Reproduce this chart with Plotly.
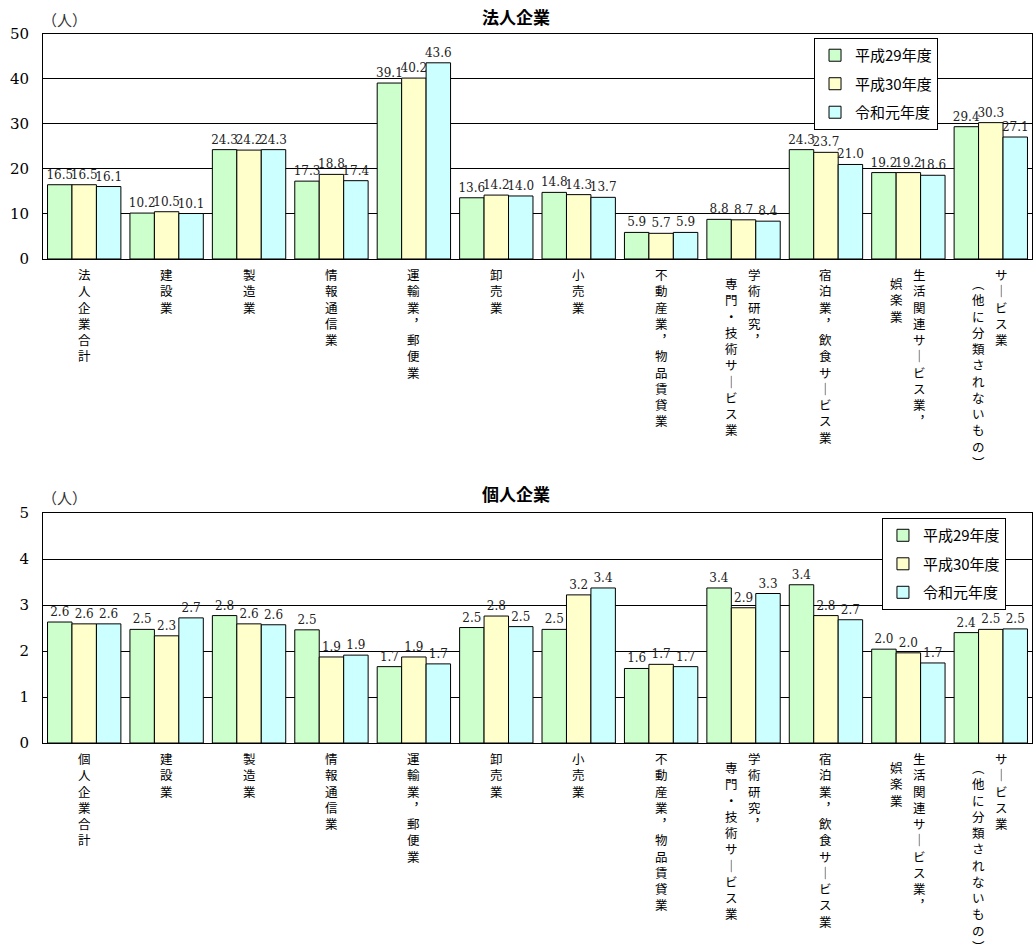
import plotly.graph_objects as go

# ---------------- data ----------------
series_names = ["平成29年度", "平成30年度", "令和元年度"]
series_colors = ["#CCFFCC", "#FFFFCC", "#CCFFFF"]

categories_corp = ["法人企業合計", "建設業", "製造業", "情報通信業", "運輸業，郵便業", "卸売業", "小売業",
                   "不動産業，物品賃貸業", "学術研究，専門・技術サービス業", "宿泊業，飲食サービス業",
                   "生活関連サービス業，娯楽業", "サービス業（他に分類されないもの）"]
categories_indiv = ["個人企業合計"] + categories_corp[1:]

# label columns as written vertically (first column = rightmost)
label_cols_corp = [["法人企業合計"], ["建設業"], ["製造業"], ["情報通信業"], ["運輸業，郵便業"], ["卸売業"],
                   ["小売業"], ["不動産業，物品賃貸業"], ["学術研究，", "専門・技術サービス業"],
                   ["宿泊業，飲食サービス業"], ["生活関連サービス業，", "娯楽業"],
                   ["サービス業", "（他に分類されないもの）"]]
label_cols_indiv = [["個人企業合計"]] + label_cols_corp[1:]

corp_h29 = [16.5, 10.2, 24.3, 17.3, 39.1, 13.6, 14.8, 5.9, 8.8, 24.3, 19.2, 29.4]
corp_h30 = [16.5, 10.5, 24.2, 18.8, 40.2, 14.2, 14.3, 5.7, 8.7, 23.7, 19.2, 30.3]
corp_r01 = [16.1, 10.1, 24.3, 17.4, 43.6, 14.0, 13.7, 5.9, 8.4, 21.0, 18.6, 27.1]

indiv_h29 = [2.63, 2.47, 2.77, 2.46, 1.66, 2.51, 2.47, 1.62, 3.37, 3.44, 2.04, 2.40]
indiv_h30 = [2.59, 2.33, 2.59, 1.87, 1.87, 2.76, 3.22, 1.71, 2.94, 2.77, 1.96, 2.47]
indiv_r01 = [2.59, 2.72, 2.57, 1.91, 1.72, 2.53, 3.37, 1.66, 3.25, 2.68, 1.74, 2.48]

corp_values = [corp_h29, corp_h30, corp_r01]
indiv_values = [indiv_h29, indiv_h30, indiv_r01]

titles = ["法人企業", "個人企業"]
unit_label = "（人）"

# ---------------- helpers ----------------
VMAP = {"ー": "｜", "，": "︐", "（": "︵", "）": "︶"}


def vertical(s):
    return "<br>".join(VMAP.get(c, c) for c in s)


CJK = "Noto Sans CJK JP"
NUM = "DejaVu Serif"

fig = go.Figure()

for panel, (cats, vals, xa, ya, lg) in enumerate([
        (categories_corp, corp_values, "x", "y", "legend"),
        (categories_indiv, indiv_values, "x2", "y2", "legend2")]):
    for i in range(3):
        fig.add_trace(go.Bar(
            x=cats, y=vals[i], name=series_names[i],
            marker=dict(color=series_colors[i], line=dict(color="#000000", width=1)),
            texttemplate="%{y:.1f}", textposition="outside", constraintext="none",
            textfont=dict(family=NUM, size=12, color="#222222"),
            cliponaxis=False, xaxis=xa, yaxis=ya, legend=lg,
            legendgroup=f"p{panel}s{i}", hoverinfo="x+y+name"))

# vertical category labels
annotations = []
for cats, cols, xr, yr in [(categories_corp, label_cols_corp, "x", "y domain"),
                           (categories_indiv, label_cols_indiv, "x2", "y2 domain")]:
    for cat, colset in zip(cats, cols):
        if len(colset) == 1:
            offsets = [(0, 0)]
        else:
            offsets = [(11, 0), (-12, -9)]
        for text, (dx, dy) in zip(colset, offsets):
            annotations.append(dict(
                x=cat, xref=xr, y=0, yref=yr, xanchor="center", yanchor="top",
                xshift=dx, yshift=-4 + dy, showarrow=False, align="center",
                text=vertical(text), font=dict(family=CJK, size=12.5, color="#000000")))

# titles and unit labels
for t, xr, yr, shift, ushift in [(titles[0], "x domain", "y domain", 18, 15),
                                 (titles[1], "x2 domain", "y2 domain", 20, 16)]:
    annotations.append(dict(x=0.478, xref=xr, y=1, yref=yr, yshift=shift, showarrow=False,
                            xanchor="center", yanchor="middle",
                            text=f"<b>{t}</b>", font=dict(family=CJK, size=17, color="#000000")))
    annotations.append(dict(x=0.022, xref=xr, y=1, yref=yr, yshift=ushift, showarrow=False,
                            xanchor="center", yanchor="middle",
                            text=unit_label, font=dict(family=CJK, size=15, color="#333333")))

axis_common = dict(showline=True, linecolor="#000000", linewidth=1, mirror=True,
                   showticklabels=False, ticks="", showgrid=False, zeroline=False)
yaxis_common = dict(showline=True, linecolor="#000000", linewidth=1, mirror=True,
                    showgrid=True, gridcolor="#000000", gridwidth=1, zeroline=False,
                    ticks="", ticklabelstandoff=10,
                    tickfont=dict(family=NUM, size=15, color="#000000"))

legend_common = dict(bgcolor="#FFFFFF", bordercolor="#000000", borderwidth=1,
                     font=dict(family=CJK, size=15, color="#000000"),
                     tracegroupgap=6, xanchor="left", yanchor="top",
                     itemclick=False, itemdoubleclick=False)

fig.update_layout(
    width=1033, height=945,
    margin=dict(l=43, r=1, t=34, b=202),
    paper_bgcolor="#FFFFFF", plot_bgcolor="#FFFFFF",
    barmode="group", bargap=0.11, bargroupgap=0,
    xaxis=dict(domain=[0, 1], anchor="y", **axis_common),
    yaxis=dict(domain=[0.6827, 1], anchor="x", range=[0, 50], dtick=10, **yaxis_common),
    xaxis2=dict(domain=[0, 1], anchor="y2", **axis_common),
    yaxis2=dict(domain=[0, 0.3244], anchor="x2", range=[0, 5], dtick=1, **yaxis_common),
    legend=dict(x=0.7796, y=0.9944, **legend_common),
    legend2=dict(x=0.8483, y=0.3173, **legend_common),
    showlegend=True,
    annotations=annotations,
)

fig.write_html("out.html", config={"displayModeBar": False},
               post_script="document.body.style.margin='0px';document.body.style.overflow='hidden';")
